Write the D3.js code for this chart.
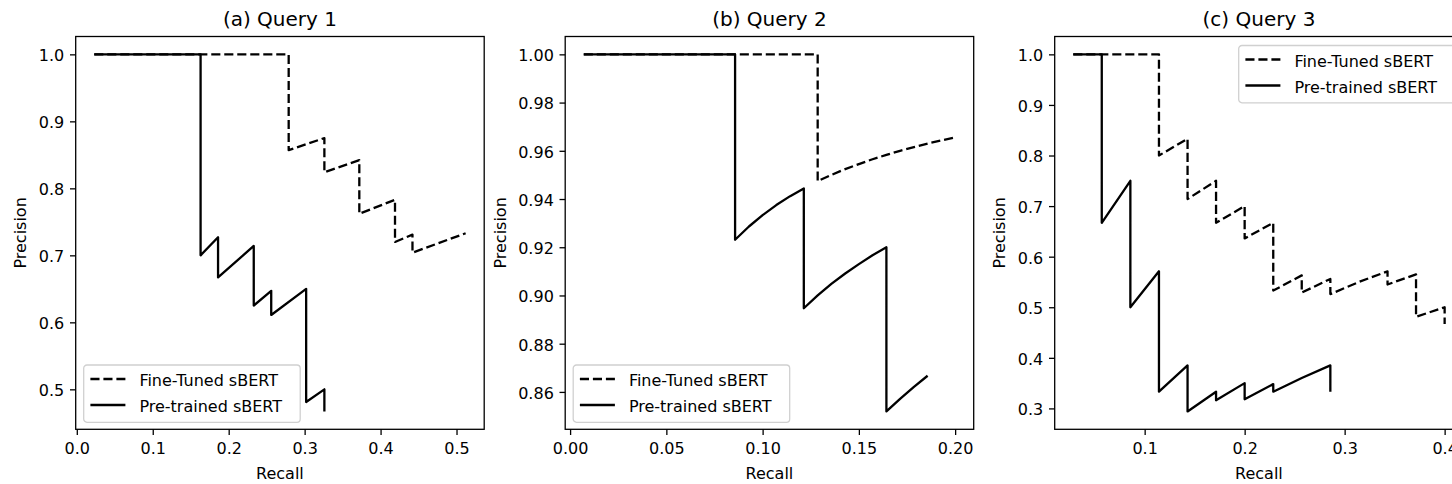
<!DOCTYPE html>
<html>
<head>
<meta charset="utf-8">
<script src="https://cdn.jsdelivr.net/npm/d3@7"></script>
<style>
  body { margin: 0; background: #fff; }
  svg { display: block; }
  text { font-family: 'DejaVu Sans', sans-serif; fill: #000; }
</style>
</head>
<body>
<svg id="chart" width="1452" height="484"></svg>
<script>
'use strict';

// ---- data ----
const panelTitles = ['(a) Query 1', '(b) Query 2', '(c) Query 3'];
const seriesNames = ['Fine-Tuned sBERT', 'Pre-trained sBERT'];

// Query 1
const q1FineRecall = [0.023, 0.279, 0.279, 0.326, 0.326, 0.372, 0.372, 0.419, 0.419, 0.442, 0.442, 0.512];
const q1FinePrecision = [1.0, 1.0, 0.857, 0.875, 0.824, 0.842, 0.762, 0.783, 0.720, 0.731, 0.704, 0.733];
const q1PreRecall = [0.023, 0.163, 0.163, 0.186, 0.186, 0.233, 0.233, 0.256, 0.256, 0.302, 0.302, 0.326, 0.326];
const q1PrePrecision = [1.0, 1.0, 0.700, 0.727, 0.667, 0.714, 0.625, 0.647, 0.611, 0.650, 0.481, 0.500, 0.467];

// Query 2
const q2FineRecall = [0.0071, 0.1286, 0.1286, 0.1357, 0.1429, 0.1500, 0.1571, 0.1643, 0.1714, 0.1786, 0.1857, 0.1929, 0.2000];
const q2FinePrecision = [1.0, 1.0, 0.9474, 0.9500, 0.9524, 0.9545, 0.9565, 0.9583, 0.9600, 0.9615, 0.9630, 0.9643, 0.9655];
const q2PreRecall = [0.0071, 0.0857, 0.0857, 0.0929, 0.1000, 0.1071, 0.1143, 0.1214, 0.1214, 0.1286, 0.1357, 0.1429, 0.1500, 0.1571, 0.1643, 0.1643, 0.1714, 0.1786, 0.1857];
const q2PrePrecision = [1.0, 1.0, 0.9231, 0.9286, 0.9333, 0.9375, 0.9412, 0.9444, 0.8947, 0.9000, 0.9048, 0.9091, 0.9130, 0.9167, 0.9200, 0.8519, 0.8571, 0.8621, 0.8667];

// Query 3
const q3FineRecall = [0.0286, 0.1143, 0.1143, 0.1429, 0.1429, 0.1714, 0.1714, 0.2000, 0.2000, 0.2286, 0.2286, 0.2571, 0.2571, 0.2857, 0.2857, 0.3143, 0.3429, 0.3429, 0.3714, 0.3714, 0.4000, 0.4000];
const q3FinePrecision = [1.0, 1.0, 0.800, 0.833, 0.714, 0.750, 0.667, 0.700, 0.636, 0.667, 0.533, 0.563, 0.529, 0.556, 0.526, 0.550, 0.571, 0.545, 0.565, 0.481, 0.500, 0.467];
const q3PreRecall = [0.0286, 0.0571, 0.0571, 0.0857, 0.0857, 0.1143, 0.1143, 0.1429, 0.1429, 0.1714, 0.1714, 0.2000, 0.2000, 0.2286, 0.2286, 0.2571, 0.2857, 0.2857];
const q3PrePrecision = [1.0, 1.0, 0.667, 0.750, 0.500, 0.571, 0.333, 0.385, 0.294, 0.333, 0.316, 0.350, 0.318, 0.348, 0.333, 0.360, 0.385, 0.333];

// ticks
const q1XTicks = [0.0, 0.1, 0.2, 0.3, 0.4, 0.5];
const q1XLabels = ['0.0', '0.1', '0.2', '0.3', '0.4', '0.5'];
const q1YTicks = [0.5, 0.6, 0.7, 0.8, 0.9, 1.0];
const q1YLabels = ['0.5', '0.6', '0.7', '0.8', '0.9', '1.0'];
const q2XTicks = [0.0, 0.05, 0.10, 0.15, 0.20];
const q2XLabels = ['0.00', '0.05', '0.10', '0.15', '0.20'];
const q2YTicks = [0.86, 0.88, 0.90, 0.92, 0.94, 0.96, 0.98, 1.00];
const q2YLabels = ['0.86', '0.88', '0.90', '0.92', '0.94', '0.96', '0.98', '1.00'];
const q3XTicks = [0.1, 0.2, 0.3, 0.4];
const q3XLabels = ['0.1', '0.2', '0.3', '0.4'];
const q3YTicks = [0.3, 0.4, 0.5, 0.6, 0.7, 0.8, 0.9, 1.0];
const q3YLabels = ['0.3', '0.4', '0.5', '0.6', '0.7', '0.8', '0.9', '1.0'];

// ---- layout ----
const panelLeft = 75.7;
const panelWidth = 408.5;
const panelGap = 81;
const panelTop = 36.5;
const panelHeight = 392.8;
const lineWidth = 2.3;
const dash = '9.1,3.9';
const legendPlace = ['lower left', 'lower left', 'upper right'];

const panels = [
  { fine: d3.zip(q1FineRecall, q1FinePrecision), pre: d3.zip(q1PreRecall, q1PrePrecision),
    xt: q1XTicks, xl: q1XLabels, yt: q1YTicks, yl: q1YLabels },
  { fine: d3.zip(q2FineRecall, q2FinePrecision), pre: d3.zip(q2PreRecall, q2PrePrecision),
    xt: q2XTicks, xl: q2XLabels, yt: q2YTicks, yl: q2YLabels },
  { fine: d3.zip(q3FineRecall, q3FinePrecision), pre: d3.zip(q3PreRecall, q3PrePrecision),
    xt: q3XTicks, xl: q3XLabels, yt: q3YTicks, yl: q3YLabels }
];

// matplotlib style 5% margins
const padded = ext => {
  const r = ext[1] - ext[0];
  return [ext[0] - 0.05 * r, ext[1] + 0.05 * r];
};

const svg = d3.select('#chart');

panels.forEach((p, i) => {
  const left = panelLeft + i * (panelWidth + panelGap);
  const all = p.fine.concat(p.pre);

  const x = d3.scaleLinear()
    .domain(padded(d3.extent(all, d => d[0])))
    .range([left, left + panelWidth]);
  const y = d3.scaleLinear()
    .domain(padded(d3.extent(all, d => d[1])))
    .range([panelTop + panelHeight, panelTop]);

  const g = svg.append('g');

  // lines
  const line = d3.line().x(d => x(d[0])).y(d => y(d[1]));
  g.append('path')
    .attr('d', line(p.fine))
    .attr('fill', 'none')
    .attr('stroke', '#000')
    .attr('stroke-width', lineWidth)
    .attr('stroke-dasharray', dash)
    .attr('stroke-linejoin', 'round');
  g.append('path')
    .attr('d', line(p.pre))
    .attr('fill', 'none')
    .attr('stroke', '#000')
    .attr('stroke-width', lineWidth)
    .attr('stroke-linejoin', 'round');

  // axes
  const xAxis = g.append('g')
    .attr('transform', `translate(0,${panelTop + panelHeight})`)
    .call(d3.axisBottom(x)
      .tickValues(p.xt)
      .tickFormat((d, k) => p.xl[k])
      .tickSize(5.7)
      .tickPadding(7.4));
  const yAxis = g.append('g')
    .attr('transform', `translate(${left},0)`)
    .call(d3.axisLeft(y)
      .tickValues(p.yt)
      .tickFormat((d, k) => p.yl[k])
      .tickSize(5.7)
      .tickPadding(5.7));

  [xAxis, yAxis].forEach(a => {
    a.select('.domain').remove();
    a.selectAll('.tick line').attr('stroke', '#000').attr('stroke-width', 1.3);
    a.selectAll('.tick text')
      .attr('font-size', 16)
      .attr('font-family', "'DejaVu Sans', sans-serif")
      .attr('fill', '#000');
  });
  yAxis.selectAll('.tick text').attr('dy', '0.4em');

  // spines
  g.append('rect')
    .attr('x', left)
    .attr('y', panelTop)
    .attr('width', panelWidth)
    .attr('height', panelHeight)
    .attr('fill', 'none')
    .attr('stroke', '#000')
    .attr('stroke-width', 1.3);

  // title and labels
  g.append('text')
    .attr('x', left + panelWidth / 2)
    .attr('y', 26)
    .attr('text-anchor', 'middle')
    .attr('font-size', 20)
    .text(panelTitles[i]);

  g.append('text')
    .attr('x', left + panelWidth / 2)
    .attr('y', 479)
    .attr('text-anchor', 'middle')
    .attr('font-size', 16)
    .text('Recall');

  let labelLeft = left;
  yAxis.selectAll('.tick text').each(function() {
    labelLeft = Math.min(labelLeft, this.getBBox().x + left);
  });
  const ylx = labelLeft - 12.5;
  const yly = panelTop + panelHeight / 2;
  g.append('text')
    .attr('transform', `translate(${ylx},${yly}) rotate(-90)`)
    .attr('text-anchor', 'middle')
    .attr('font-size', 16)
    .text('Precision');

  // legend
  const lw = 216.5, lh = 57.3, off = 8;
  const lx = legendPlace[i] === 'upper right' ? left + panelWidth - off - lw : left + off;
  const ly = legendPlace[i] === 'upper right' ? panelTop + off + 1 : panelTop + panelHeight - off - lh + 1;
  const legend = g.append('g').attr('transform', `translate(${lx},${ly})`);
  legend.append('rect')
    .attr('width', lw)
    .attr('height', lh)
    .attr('rx', 3.3)
    .attr('fill', '#fff')
    .attr('fill-opacity', 0.8)
    .attr('stroke', '#d0d0d0')
    .attr('stroke-width', 1.3);
  seriesNames.forEach((name, k) => {
    const cy = 14 + k * 26;
    legend.append('line')
      .attr('x1', 6.7)
      .attr('x2', 41.7)
      .attr('y1', cy)
      .attr('y2', cy)
      .attr('stroke', '#000')
      .attr('stroke-width', lineWidth)
      .attr('stroke-dasharray', k === 0 ? dash : null);
    legend.append('text')
      .attr('x', 55.7)
      .attr('y', cy + 7.3)
      .attr('font-size', 16)
      .text(name);
  });
});
</script>
</body>
</html>
